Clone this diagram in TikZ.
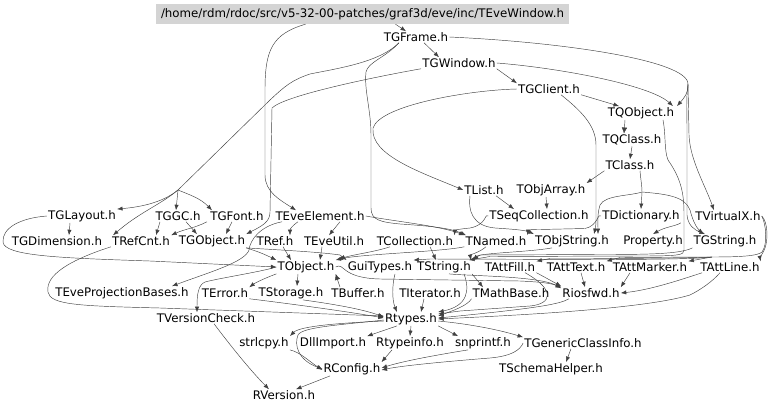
\documentclass[tikz,border=0pt]{standalone}
\usepackage{fontspec}
\setmainfont{DejaVu Sans}
\usetikzlibrary{arrows.meta}
\tikzset{
  lbl/.style={inner sep=1pt, font=\fontsize{11.8pt}{13pt}\selectfont},
  rootbox/.style={fill=black!17, minimum width=413pt, minimum height=20pt, inner sep=0pt, font=\fontsize{11.8pt}{13pt}\selectfont},
  e/.style={draw=black!75, line width=0.45pt, -{Latex[length=5.5pt,width=4.2pt]}},
  big/.style={-{Latex[length=6pt,width=5.5pt]}}
}
\begin{document}
\begin{tikzpicture}[x=1pt,y=-1pt]
\useasboundingbox (0,0) rectangle (768,409);
\node[rootbox] (root) at (362.5,14) {/home/rdm/rdoc/src/v5-32-00-patches/graf3d/eve/inc/TEveWindow.h};
\node[lbl] (tgframe) at (416,37) {TGFrame.h};
\node[lbl] (tgwindow) at (459,63) {TGWindow.h};
\node[lbl] (tgclient) at (549,89) {TGClient.h};
\node[lbl] (tqobject) at (641,113) {TQObject.h};
\node[lbl] (tqclass) at (632,140) {TQClass.h};
\node[lbl] (tclass) at (630,165) {TClass.h};
\node[lbl] (tlist) at (484,190) {TList.h};
\node[lbl] (tobjarray) at (551,190) {TObjArray.h};
\node[lbl] (tseqcoll) at (539,216) {TSeqCollection.h};
\node[lbl] (tdict) at (641,216) {TDictionary.h};
\node[lbl] (tvirtualx) at (728,216) {TVirtualX.h};
\node[lbl] (tglayout) at (82,216) {TGLayout.h};
\node[lbl] (tggc) at (178,216) {TGGC.h};
\node[lbl] (tgfont) at (237,216) {TGFont.h};
\node[lbl] (teveelem) at (320,216) {TEveElement.h};
\node[lbl] (tgdim) at (57,241) {TGDimension.h};
\node[lbl] (trefcnt) at (141,241) {TRefCnt.h};
\node[lbl] (tgobject) at (212,241) {TGObject.h};
\node[lbl] (tref) at (275,241) {TRef.h};
\node[lbl] (teveutil) at (334,241) {TEveUtil.h};
\node[lbl] (tcoll) at (415,241) {TCollection.h};
\node[lbl] (tnamed) at (496,241) {TNamed.h};
\node[lbl] (tobjstring) at (572,241) {TObjString.h};
\node[lbl] (property) at (653,241) {Property.h};
\node[lbl] (tgstring) at (725,241) {TGString.h};
\node[lbl] (tobject) at (306,267) {TObject.h};
\node[lbl] (guitypes) at (380,267) {GuiTypes.h};
\node[lbl] (tstring) at (444,267) {TString.h};
\node[lbl] (tattfill) at (510,267) {TAttFill.h};
\node[lbl] (tatttext) at (576,267) {TAttText.h};
\node[lbl] (tattmarker) at (650,267) {TAttMarker.h};
\node[lbl] (tattline) at (730,267) {TAttLine.h};
\node[lbl] (teveproj) at (122,293) {TEveProjectionBases.h};
\node[lbl] (terror) at (225,293) {TError.h};
\node[lbl] (tstorage) at (291,293) {TStorage.h};
\node[lbl] (tbuffer) at (358,293) {TBuffer.h};
\node[lbl] (titerator) at (430,293) {TIterator.h};
\node[lbl] (tmathbase) at (511,293) {TMathBase.h};
\node[lbl] (riosfwd) at (591,293) {Riosfwd.h};
\node[lbl] (tversion) at (206,318) {TVersionCheck.h};
\node[lbl] (rtypes) at (411,319) {Rtypes.h};
\node[lbl] (strlcpy) at (264,343) {strlcpy.h};
\node[lbl] (dllimport) at (333,343) {DllImport.h};
\node[lbl] (rtypeinfo) at (410,343) {Rtypeinfo.h};
\node[lbl] (snprintf) at (483,343) {snprintf.h};
\node[lbl] (tgeneric) at (583,343) {TGenericClassInfo.h};
\node[lbl] (rconfig) at (352,369) {RConfig.h};
\node[lbl] (tschema) at (551,369) {TSchemaHelper.h};
\node[lbl] (rversion) at (284,395) {RVersion.h};
% branch points of shared routes
\coordinate (fr) at (688,84);
\coordinate (fl) at (178,190);
\coordinate (cb) at (642,192);
\coordinate (vb) at (712,257);
% top
\draw[e] ([xshift=33pt]root.south) -- ([xshift=-10pt]tgframe.north);
\draw[e] ([xshift=-57pt]root.south) .. controls (272,34) and (265,50) .. (265,90) -- (265,175) .. controls (265,192) and (280,200) .. ([xshift=-24pt]teveelem.north);
\draw[e] ([xshift=8pt]tgframe.south) -- ([xshift=-20pt]tgwindow.north);
\draw[e] (tgframe.east) .. controls (560,42) and (688,60) .. (fr) .. controls (688,94) and (684,98) .. ([xshift=36pt]tqobject.north);
\draw[e] (fr) -- (689,135) .. controls (690,160) and (705,185) .. ([xshift=-14pt]tvirtualx.north);
\draw[e] (fr) .. controls (686,100) and (687,110) .. (687,130) -- (687,215) .. controls (688,226) and (695,230) .. ([xshift=-20pt]tgstring.north);
\draw[e] ([xshift=-17pt]tgframe.south) .. controls (380,62) and (340,68) .. (310,74) .. controls (292,80) and (285,86) .. (270,100) -- (fl) .. controls (162,203) and (140,207) .. (tglayout.north east);
\draw[e] (fl) -- ([xshift=-2pt]tggc.north);
\draw[e] (fl) .. controls (190,195) and (200,198) .. ([xshift=-25pt]tgfont.north);
\draw[e] (fl) .. controls (160,205) and (140,212) .. ([xshift=-28pt]trefcnt.north);
\draw[e] ([xshift=-17pt]tgframe.south) .. controls (385,58) and (368,62) .. (366,72) .. controls (364,90) and (371,110) .. (371,135) -- (371,208) .. controls (371,220) and (380,222) .. (400,224) .. controls (430,226) and (450,228) .. ([xshift=-30pt]tnamed.north);
\draw[e] (tgwindow.south east) -- (tgclient.north west);
\draw[e] (tgwindow.east) .. controls (560,68) and (650,85) .. ([xshift=32pt]tqobject.north);
\draw[e] ([xshift=-38pt]tgwindow.south) .. controls (380,76) and (285,95) .. (272,108) -- (270,212) .. controls (270,222) and (262,226) .. (tgobject.north east);
\draw[e] (tgclient.south east) -- ([xshift=-22pt]tqobject.north);
\draw[e] (tgclient.west) .. controls (470,90) and (380,105) .. (373,128) .. controls (370,155) and (420,172) .. (tlist.west);
\draw[e] ([xshift=12pt]tgclient.south) .. controls (580,110) and (596,125) .. (596,145) -- (596,220) .. controls (596,226) and (595,230) .. ([xshift=22pt]tobjstring.north);
\draw[e, big] ([xshift=-16pt]tqobject.south) -- ([xshift=-8pt]tqclass.north);
\draw[e] (tqclass.south) -- (tclass.north);
\draw[e] (tclass.south west) -- (tobjarray.north east);
\draw[e] ([xshift=10pt]tclass.south) .. controls (641,182) and (642,186) .. (cb) -- (tdict.north);
\draw[e] (cb) .. controls (630,196) and (605,195) .. (600,205) .. controls (597,215) and (598,222) .. ([xshift=26pt]tobjstring.north);
\draw[e] (cb) .. controls (665,194) and (685,196) .. (690,210) .. controls (693,222) and (697,228) .. ([xshift=-22pt]tgstring.north);
\draw[e] ([xshift=22pt]tqobject.south) .. controls (666,135) and (664,150) .. (668,160) .. controls (682,180) and (684,195) .. (684,215) -- (684,250) .. controls (684,255) and (680,256) .. (640,256) -- (490,256.5) -- ([xshift=-3pt]tstring.north east);
% row 216/241
\draw[e] ([xshift=12pt]tlist.south) -- ([xshift=-25pt]tseqcoll.north);
\draw[e] ([xshift=-5pt]tobjarray.south) -- ([xshift=8pt]tseqcoll.north);
\draw[e] ([xshift=-14pt]tlist.south) .. controls (468,210) and (472,226) .. (495,228) .. controls (510,229) and (525,230) .. (tobjstring.north west);
\draw[e] (tseqcoll.west) .. controls (485,212) and (487,225) .. (470,228) .. controls (460,229) and (455,230) .. (tcoll.north east);
\draw[e] (tdict.west) .. controls (598,212) and (598,226) .. (585,228.5) -- (540,229.5) .. controls (530,229.5) and (528,230) .. (tnamed.north east);
\draw[e] (tdict.south east) .. controls (676,226) and (665,227) .. (property.north);
\draw[e] (tvirtualx.east) .. controls (768,222) and (768,240) .. (765,248) .. controls (762,255) and (760,258) .. (tattline.north east);
\draw[e] (tvirtualx.east) .. controls (766,224) and (768,244) .. (762,252) .. controls (758,256) and (740,257) .. (vb) -- (tattmarker.north east);
\draw[e] (vb) -- (620,257.5) -- (tatttext.north east);
\draw[e] (vb) .. controls (680,258.5) and (600,258.5) .. (550,258.5) -- (tattfill.north east);
\draw[e] (vb) .. controls (700,259) and (640,259.5) .. (600,259.5) -- (430,259) -- (guitypes.north east);
\draw[e] (tgstring.south west) .. controls (680,254) and (650,254.5) .. (600,254.5) -- (480,255) -- (tstring.north east);
\draw[e] (tnamed.south west) .. controls (440,252) and (360,254) .. (tobject.north east);
\draw[e] ([xshift=-10pt]tnamed.south) .. controls (480,252) and (470,255) .. ([xshift=-1pt]tstring.north east);
\draw[e] ([xshift=-20pt]tobjstring.south) .. controls (530,252) and (480,253) .. ([xshift=1pt]tstring.north east);
\draw[e] ([xshift=-25pt]tcoll.south) .. controls (375,252) and (350,255) .. ([xshift=2pt]tobject.north east);
\draw[e] ([xshift=15pt]tcoll.south) -- ([xshift=-8pt]tstring.north);
\draw[e] (teveelem.east) .. controls (400,222) and (440,226) .. (tnamed.north west);
\draw[e] ([xshift=-22pt]teveelem.south) .. controls (292,226) and (290,229) .. ([xshift=15pt]tref.north);
\draw[e] ([xshift=20pt]teveelem.south) -- ([xshift=-5pt]teveutil.north);
\draw[e] ([xshift=-38pt]teveelem.south) .. controls (260,226) and (250,240) .. (249,250) .. controls (245,262) and (210,272) .. ([xshift=50pt]teveproj.north);
\draw[e] ([xshift=-12pt]tglayout.south) -- ([xshift=12pt]tgdim.north);
\draw[e] (tglayout.west) .. controls (20,218) and (2,228) .. (3,242) .. controls (4,256) and (60,258) .. (150,261) -- (tobject.west);
\draw[e] ([xshift=-18pt]tggc.south) -- ([xshift=15pt]trefcnt.north);
\draw[e] ([xshift=8pt]tggc.south) -- ([xshift=-15pt]tgobject.north);
\draw[e] ([xshift=-30pt]tgfont.south) .. controls (195,228) and (185,229) .. (trefcnt.north east);
\draw[e] ([xshift=-5pt]tgfont.south) -- ([xshift=14pt]tgobject.north);
\draw[e] (tgobject.south east) .. controls (260,252) and (268,256) .. (tobject.north west);
\draw[e] (tgobject.south east) .. controls (280,250) and (320,252) .. (340,255) -- (guitypes.north west);
\draw[e] ([xshift=8pt]tref.south) -- ([xshift=-15pt]tobject.north);
\draw[e] ([xshift=-12pt]teveutil.south) -- ([xshift=14pt]tobject.north);
% lower
\draw[e] ([xshift=-30pt]trefcnt.south) .. controls (70,260) and (45,275) .. (48,292) .. controls (50,305) and (80,306) .. (160,308) -- ([yshift=3pt]rtypes.west);
\draw[e] (tobject.south west) .. controls (265,278) and (255,283) .. (terror.north east);
\draw[e] (tobject.west) .. controls (260,272) and (220,278) .. (205,282) .. controls (198,285) and (197,295) .. ([xshift=-9pt]tversion.north);
\draw[e] ([xshift=-8pt]tobject.south) -- ([xshift=6pt]tstorage.north);
\draw[e, big] ([xshift=-18pt]tbuffer.north) -- (tobject.south east);
\draw[e] (tobject.east) .. controls (345,262) and (340,278) .. (380,279) -- (520,281) .. controls (540,282) and (550,283) .. (riosfwd.north west);
\draw[e] ([xshift=15pt]guitypes.south) .. controls (392,285) and (392,300) .. ([xshift=-14pt]rtypes.north);
\draw[e] ([xshift=-6pt]titerator.south) -- ([xshift=10pt]rtypes.north);
\draw[e] (tstring.south east) -- ([xshift=-28pt]tmathbase.north);
\draw[e] ([xshift=5pt]tstring.south) .. controls (470,276) and (540,276) .. ([yshift=-1pt]riosfwd.north west);
\draw[e] ([xshift=20pt]tstring.south) .. controls (470,290) and (468,306) .. ([yshift=7pt]rtypes.east);
\draw[e] (tattfill.south east) -- ([yshift=1pt]riosfwd.north west);
\draw[e] ([xshift=15pt]tattfill.south) .. controls (556,290) and (552,304) .. (530,306) -- (460,311) -- ([yshift=5pt]rtypes.east);
\draw[e] ([xshift=5pt]tatttext.south) -- ([xshift=-6pt]riosfwd.north);
\draw[e] ([xshift=-20pt]tattmarker.south) -- (riosfwd.north east);
\draw[e] ([xshift=-28pt]tattline.south) .. controls (680,280) and (650,290) .. (riosfwd.east);
\draw[e] ([xshift=-10pt]tattline.south) .. controls (712,282) and (700,290) .. (690,295) .. controls (640,310) and (500,316) .. (rtypes.east);
\draw[e] ([xshift=-22pt]riosfwd.south) .. controls (560,304) and (540,308) .. ([yshift=1pt]rtypes.east);
\draw[e] (tmathbase.south west) .. controls (468,305) and (455,310) .. ([yshift=3pt]rtypes.east);
\draw[e] (terror.south east) .. controls (300,305) and (350,312) .. ([yshift=1pt]rtypes.west);
\draw[e] ([xshift=12pt]tstorage.south) .. controls (340,305) and (365,310) .. ([yshift=2pt]rtypes.west);
\draw[e] ([yshift=-2pt]rtypes.west) .. controls (340,323) and (300,326) .. (strlcpy.north east);
\draw[e] ([yshift=-1pt]rtypes.west) .. controls (340,325) and (302,327) .. (298,335) .. controls (294,345) and (298,360) .. (rconfig.west);
\draw[e] ([xshift=-14pt]rtypes.south) -- (dllimport.north east);
\draw[e] (rtypes.south) -- (rtypeinfo.north);
\draw[e] (rtypes.south east) -- ([xshift=-25pt]snprintf.north);
\draw[e] ([yshift=-2pt]rtypes.east) .. controls (470,324) and (500,330) .. (tgeneric.north west);
\draw[e] (strlcpy.south east) .. controls (300,352) and (310,362) .. ([yshift=-1pt]rconfig.west);
\draw[e] ([xshift=-18pt]rtypeinfo.south) -- (rconfig.north east);
\draw[e] ([xshift=-15pt]snprintf.south) .. controls (430,356) and (400,362) .. ([yshift=1pt]rconfig.east);
\draw[e] (tgeneric.west) .. controls (520,350) and (512,356) .. (490,358) .. controls (440,362) and (400,366) .. ([yshift=-1pt]rconfig.east);
\draw[e] ([xshift=-12pt]tgeneric.south) -- ([xshift=15pt]tschema.north);
\draw[e] ([xshift=8pt]tversion.south) .. controls (230,345) and (250,370) .. ([xshift=-15pt]rversion.north);
\draw[e] ([xshift=-22pt]rconfig.south) -- ([xshift=12pt]rversion.north);
\end{tikzpicture}
\end{document}
